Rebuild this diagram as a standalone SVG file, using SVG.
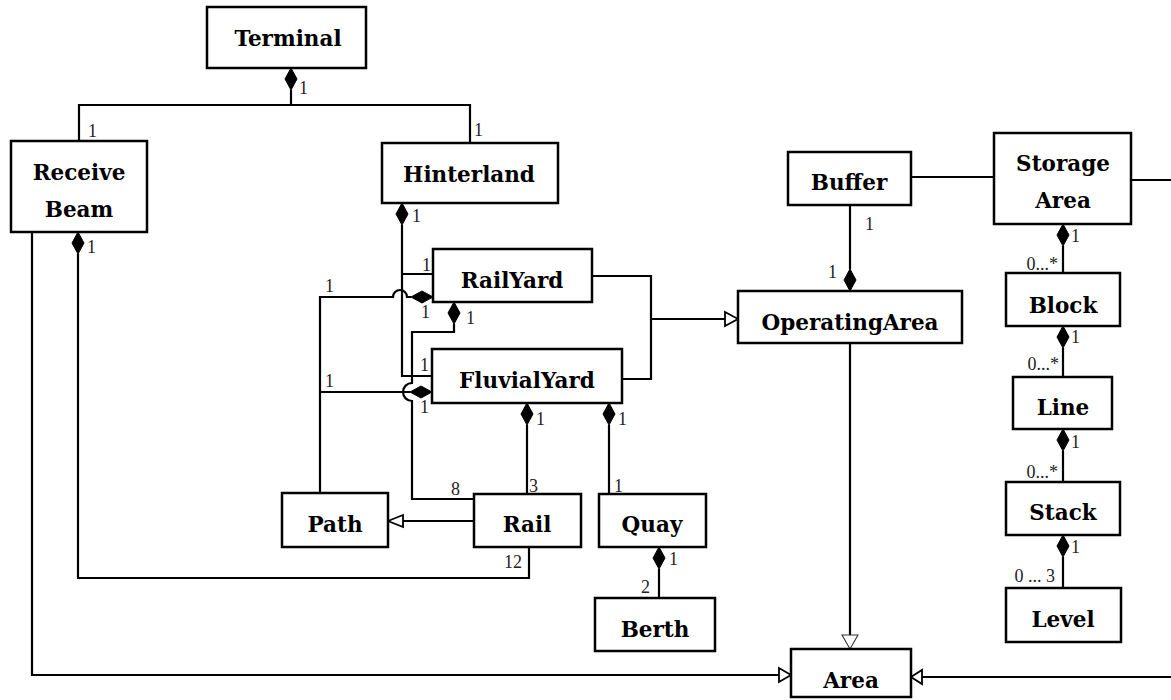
<svg xmlns="http://www.w3.org/2000/svg" width="1171" height="700" viewBox="0 0 1171 700">
<style>
.box{fill:#fff;stroke:#000;stroke-width:2.5}
.nt{font-family:"DejaVu Serif","Liberation Serif",serif;font-weight:bold;font-size:21.5px;text-anchor:middle;fill:#000}
.ln{fill:none;stroke:#000;stroke-width:2.2}
.dm{fill:#000;stroke:#000;stroke-width:1}
.tri{fill:#fff;stroke:#000;stroke-width:1.8}
.tri2{fill:#fff;stroke:#333;stroke-width:1.1}
.lb{font-family:"Liberation Serif","DejaVu Serif",serif;font-size:18px;fill:#222}
.le{font-family:"Liberation Serif","DejaVu Serif",serif;font-size:18px;fill:#222;text-anchor:end}
</style>
<rect width="1171" height="700" fill="#fff"/>
<g id="connectors">
<path class="ln" d="M291 90V105M79 141V105H470V143"/>
<path class="ln" d="M402 225V376H432M402 274H433"/>
<path class="ln" d="M320 493V297H393A7 7 0 0 1 407 297H411"/>
<path class="ln" d="M320 392H410"/>
<path class="ln" d="M454 324V332H412V383A9 9 0 0 0 412 401V499H474"/>
<path class="ln" d="M527 425V494M609 425V494"/>
<path class="ln" d="M474 521H403"/>
<path class="ln" d="M529 547V578H78V254"/>
<path class="ln" d="M659 569V598"/>
<path class="ln" d="M32 232V675H779"/>
<path class="ln" d="M592 276H651V379H622M651 319H725"/>
<path class="ln" d="M911 177H994M1131 180H1171"/>
<path class="ln" d="M850 205V269"/>
<path class="ln" d="M850 343V635"/>
<path class="ln" d="M921 677H1171"/>
<path class="ln" d="M1063 246V273M1063 348V377M1063 451V482M1063 557V588"/>
<polygon class="dm" points="291,68 297,79 291,90 285,79"/>
<polygon class="dm" points="402,203 408,214 402,225 396,214"/>
<polygon class="dm" points="78,232 84,243 78,254 72,243"/>
<polygon class="dm" points="454,302 460,313 454,324 448,313"/>
<polygon class="dm" points="527,403 533,414 527,425 521,414"/>
<polygon class="dm" points="609,403 615,414 609,425 603,414"/>
<polygon class="dm" points="659,547 665,558 659,569 653,558"/>
<polygon class="dm" points="850,269 856,280 850,291 844,280"/>
<polygon class="dm" points="1063,224 1069,235 1063,246 1057,235"/>
<polygon class="dm" points="1063,326 1069,337 1063,348 1057,337"/>
<polygon class="dm" points="1063,429 1069,440 1063,451 1057,440"/>
<polygon class="dm" points="1063,535 1069,546 1063,557 1057,546"/>
<polygon class="dm" points="411,297 422,291 433,297 422,303"/>
<polygon class="dm" points="410,392 421,386 432,392 421,398"/>
<polygon class="tri" points="388,521 403,515 403,527"/>
<polygon class="tri" points="738,319 725,312 725,326"/>
<polygon class="tri2" points="850,649 842,635 858,635"/>
<polygon class="tri" points="791,675 779,668 779,682"/>
<polygon class="tri" points="911,677 922,670 922,684"/>
<text class="lb" x="299" y="94">1</text>
<text class="lb" x="88" y="137">1</text>
<text class="lb" x="474" y="136">1</text>
<text class="lb" x="412" y="222">1</text>
<text class="lb" x="87" y="253">1</text>
<text class="lb" x="422" y="271">1</text>
<text class="lb" x="325" y="292">1</text>
<text class="lb" x="421" y="318">1</text>
<text class="lb" x="466" y="324">1</text>
<text class="lb" x="420" y="371">1</text>
<text class="lb" x="325" y="387">1</text>
<text class="lb" x="420" y="413">1</text>
<text class="lb" x="536" y="425">1</text>
<text class="lb" x="618" y="425">1</text>
<text class="lb" x="529" y="492">3</text>
<text class="lb" x="614" y="492">1</text>
<text class="lb" x="451" y="495">8</text>
<text class="le" x="522" y="568">12</text>
<text class="lb" x="669" y="565">1</text>
<text class="lb" x="641" y="593">2</text>
<text class="lb" x="865" y="230">1</text>
<text class="lb" x="828" y="278">1</text>
<text class="lb" x="1071" y="242">1</text>
<text class="le" x="1058" y="270">0...*</text>
<text class="lb" x="1071" y="343">1</text>
<text class="le" x="1059" y="370">0...*</text>
<text class="lb" x="1071" y="448">1</text>
<text class="le" x="1058" y="478">0...*</text>
<text class="lb" x="1071" y="553">1</text>
<text class="le" x="1055" y="582">0 ... 3</text>
</g>
<g id="terminal"><rect class="box" x="207" y="7" width="159" height="61"/><text class="nt" x="288" y="46">Terminal</text></g>
<g id="receive-beam"><rect class="box" x="11" y="141" width="136" height="91"/><text class="nt" x="79" y="180">Receive</text><text class="nt" x="79" y="217">Beam</text></g>
<g id="hinterland"><rect class="box" x="382" y="143" width="176" height="60"/><text class="nt" x="469" y="182">Hinterland</text></g>
<g id="railyard"><rect class="box" x="433" y="249" width="159" height="53"/><text class="nt" x="512" y="288">RailYard</text></g>
<g id="fluvialyard"><rect class="box" x="432" y="349" width="190" height="54"/><text class="nt" x="527" y="388">FluvialYard</text></g>
<g id="path"><rect class="box" x="282" y="493" width="106" height="54"/><text class="nt" x="335" y="532">Path</text></g>
<g id="rail"><rect class="box" x="474" y="494" width="107" height="53"/><text class="nt" x="527" y="532">Rail</text></g>
<g id="quay"><rect class="box" x="599" y="494" width="107" height="53"/><text class="nt" x="652" y="532">Quay</text></g>
<g id="berth"><rect class="box" x="595" y="598" width="120" height="53"/><text class="nt" x="655" y="637">Berth</text></g>
<g id="buffer"><rect class="box" x="788" y="152" width="123" height="53"/><text class="nt" x="849" y="190">Buffer</text></g>
<g id="storage-area"><rect class="box" x="994" y="133" width="137" height="91"/><text class="nt" x="1063" y="171">Storage</text><text class="nt" x="1063" y="208">Area</text></g>
<g id="operating-area"><rect class="box" x="738" y="291" width="224" height="52"/><text class="nt" x="850" y="330">OperatingArea</text></g>
<g id="block"><rect class="box" x="1006" y="273" width="114" height="53"/><text class="nt" x="1063" y="313">Block</text></g>
<g id="line"><rect class="box" x="1013" y="377" width="99" height="52"/><text class="nt" x="1063" y="415">Line</text></g>
<g id="stack"><rect class="box" x="1006" y="482" width="114" height="53"/><text class="nt" x="1063" y="520">Stack</text></g>
<g id="level"><rect class="box" x="1006" y="588" width="115" height="54"/><text class="nt" x="1063" y="627">Level</text></g>
<g id="area"><rect class="box" x="791" y="649" width="120" height="48"/><text class="nt" x="851" y="688">Area</text></g>
</svg>
